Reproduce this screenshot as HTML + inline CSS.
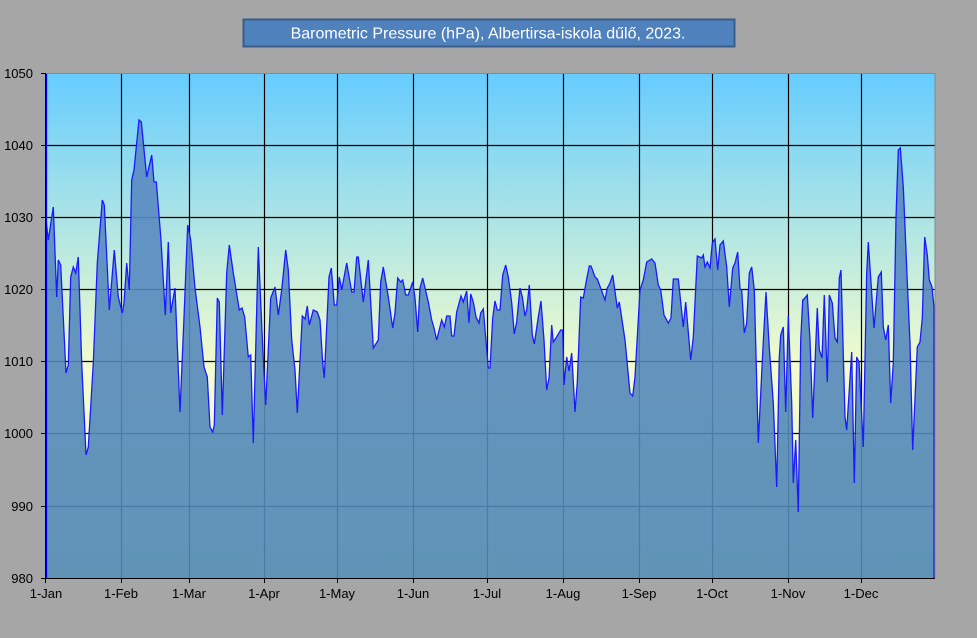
<!DOCTYPE html>
<html><head><meta charset="utf-8"><style>
html,body{margin:0;padding:0;background:#a6a6a6;}
svg{display:block;font-family:"Liberation Sans",sans-serif;}
</style></head><body>
<svg width="977" height="638" viewBox="0 0 977 638" xmlns="http://www.w3.org/2000/svg">
<defs>
<linearGradient id="bg" x1="0" y1="73" x2="0" y2="578" gradientUnits="userSpaceOnUse">
<stop offset="0" stop-color="#66ccff"/>
<stop offset="0.58" stop-color="#f2fccc"/>
<stop offset="1" stop-color="#f2fccc"/>
</linearGradient>
<linearGradient id="fl" x1="0" y1="140" x2="0" y2="578" gradientUnits="userSpaceOnUse">
<stop offset="0" stop-color="#5a8ac4"/>
<stop offset="1" stop-color="#5088b4"/>
</linearGradient>
</defs>
<rect x="0" y="0" width="977" height="638" fill="#a6a6a6"/>
<rect x="243.5" y="19.5" width="491" height="27" fill="#4f81bd" stroke="#385d8a" stroke-width="2"/>
<text x="488" y="38.5" font-size="16" fill="#ffffff" text-anchor="middle">Barometric Pressure (hPa), Albertirsa-iskola dűlő, 2023.</text>
<rect x="46" y="73" width="889" height="505" fill="url(#bg)"/>
<g stroke="#000" stroke-width="1.2">
<line x1="46" y1="145.5" x2="935" y2="145.5"/><line x1="46" y1="217.5" x2="935" y2="217.5"/>
<line x1="46" y1="289.5" x2="935" y2="289.5"/><line x1="46" y1="361.5" x2="935" y2="361.5"/>
<line x1="46" y1="433.5" x2="935" y2="433.5"/><line x1="46" y1="506.5" x2="935" y2="506.5"/>
<line x1="121.5" y1="73" x2="121.5" y2="578"/><line x1="189.5" y1="73" x2="189.5" y2="578"/>
<line x1="264.5" y1="73" x2="264.5" y2="578"/><line x1="337.5" y1="73" x2="337.5" y2="578"/>
<line x1="413.5" y1="73" x2="413.5" y2="578"/><line x1="487.5" y1="73" x2="487.5" y2="578"/>
<line x1="563.5" y1="73" x2="563.5" y2="578"/><line x1="639.5" y1="73" x2="639.5" y2="578"/>
<line x1="712.5" y1="73" x2="712.5" y2="578"/><line x1="788.5" y1="73" x2="788.5" y2="578"/>
<line x1="861.5" y1="73" x2="861.5" y2="578"/>
</g>
<polygon fill="url(#fl)" fill-opacity="0.9" stroke="none" points="46,578 46,220 48.3,240 53.3,207 56.7,297 58.3,260 60.7,265 66,373 68.3,365 70.7,277 73.3,267 75.7,273 78.3,257 81.7,363 86,455 88.3,447 93.3,363 97.3,263 102.3,200 104.3,205 109.3,310 114.3,250 118.3,297 122.3,313 124,303 126.7,263 129.3,290 131.7,180 134,170 139,120 141.3,122 146.7,177 151.7,155 154,182 156.3,182 161,240 165.3,315 168.3,242 170.7,313 175,288 180,412 184.3,310 187.7,225 190.7,240 195,288 200,327 204,367 207.3,377 210,427 212.7,432 214.3,425 217.3,298 219.3,302 222.3,415 226.7,273 229.3,245 233.3,273 239.3,310 242,308 244.7,317 248.3,357 250.7,355 253.3,443 258.3,247 262.7,347 265.7,405 270.7,298 275,287 278.3,315 281.7,290 285.7,250 288.3,270 291.7,340 295,370 297.3,413 302.3,316 305,319 307.3,306 309.3,325 313.3,310 317.3,312 320,320 322.7,363 324.3,378 329,277 331.3,268 334.3,305 336.7,305 339.3,277 341.7,290 346.7,263 351.7,292 354,292 356.7,257 358.3,257 363.3,302 368.3,260 373.3,348 378.3,340 380.7,282 383.3,267 388.3,297 392.7,328 395,313 397.7,278 400.7,282 402.7,280 405.7,295 408.3,295 412.7,282 415,298 417.7,332 420,288 422.7,278 428.3,302 431.7,320 434,328 436.7,340 441.7,320 444.3,327 446.7,316 450,316 451.7,336 454,336 456.7,312 461,296 463.3,302 466.7,291 469,323 470.7,294 473.3,302 476,317 479,323 480.7,313 483.3,309 485.7,338 488.3,368 490,368 492.7,318 495,301 497.3,310 500,310 502.7,275 505.7,265 508.3,277 511.7,303 514.3,334 516.7,322 520,288 522.3,297 525,316 526.7,310 529.3,285 532.3,335 534.3,344 538.3,317 541,301 544,340 546.7,390 549,378 551.7,325 553.3,342 556,338 560.7,330 562.7,330 564,385 566.7,357 569,371 571.7,353 575,412 577.3,382 580.7,297 583.3,298 586.7,279 589.3,266 591,266 595,277 597.3,279 605,300 607.3,288 610,283 612.7,275 617.3,308 619.3,302 625,340 630,393 632.7,396 635,377 640,290 643.3,280 646.7,262 651.7,259 655,263 658.3,285 660.7,290 664,315 668.3,323 671,318 673.3,279 678.3,279 683.3,327 685.7,302 690.7,360 693.3,337 697.3,256 701.7,258 703.3,255 705,267 707.3,262 710,268 712.3,243 715,239 717.7,270 720,245 723.3,241 726.7,267 729.3,307 732.7,268 735,263 737.7,252 740,289 741.7,290 744.3,333 746.7,323 749.3,273 751.7,267 754.3,290 758.3,443 762.7,353 766,292 769.3,348 773.3,403 776.7,487 779.3,357 780.7,335 783.3,327 785.7,412 788.3,316 791.7,403 793.3,483 795.7,440 798.3,512 800.7,340 802.7,300 805,298 807.3,295 810,340 812.7,418 817.3,308 819.3,350 822,358 824.3,295 827.3,382 829.3,295 832.3,303 835,338 837.3,342 839.3,278 841,270 845,417 846.7,430 851.7,352 854.3,483 856.7,357 859,362 863.3,447 866.7,273 868.3,242 874,328 878.3,277 881.3,272 883.3,327 885.7,340 888.3,325 890.7,403 893.3,363 896,218 898.3,150 900.3,148 903.3,187 907.3,282 910,343 912.7,450 917.3,347 920,342 922.3,318 924.7,237 927.3,255 929.3,280 932,287 934,307 934,578"/>
<polyline fill="none" stroke="#1a1aff" stroke-width="1.3" points="46,578 46,220 48.3,240 53.3,207 56.7,297 58.3,260 60.7,265 66,373 68.3,365 70.7,277 73.3,267 75.7,273 78.3,257 81.7,363 86,455 88.3,447 93.3,363 97.3,263 102.3,200 104.3,205 109.3,310 114.3,250 118.3,297 122.3,313 124,303 126.7,263 129.3,290 131.7,180 134,170 139,120 141.3,122 146.7,177 151.7,155 154,182 156.3,182 161,240 165.3,315 168.3,242 170.7,313 175,288 180,412 184.3,310 187.7,225 190.7,240 195,288 200,327 204,367 207.3,377 210,427 212.7,432 214.3,425 217.3,298 219.3,302 222.3,415 226.7,273 229.3,245 233.3,273 239.3,310 242,308 244.7,317 248.3,357 250.7,355 253.3,443 258.3,247 262.7,347 265.7,405 270.7,298 275,287 278.3,315 281.7,290 285.7,250 288.3,270 291.7,340 295,370 297.3,413 302.3,316 305,319 307.3,306 309.3,325 313.3,310 317.3,312 320,320 322.7,363 324.3,378 329,277 331.3,268 334.3,305 336.7,305 339.3,277 341.7,290 346.7,263 351.7,292 354,292 356.7,257 358.3,257 363.3,302 368.3,260 373.3,348 378.3,340 380.7,282 383.3,267 388.3,297 392.7,328 395,313 397.7,278 400.7,282 402.7,280 405.7,295 408.3,295 412.7,282 415,298 417.7,332 420,288 422.7,278 428.3,302 431.7,320 434,328 436.7,340 441.7,320 444.3,327 446.7,316 450,316 451.7,336 454,336 456.7,312 461,296 463.3,302 466.7,291 469,323 470.7,294 473.3,302 476,317 479,323 480.7,313 483.3,309 485.7,338 488.3,368 490,368 492.7,318 495,301 497.3,310 500,310 502.7,275 505.7,265 508.3,277 511.7,303 514.3,334 516.7,322 520,288 522.3,297 525,316 526.7,310 529.3,285 532.3,335 534.3,344 538.3,317 541,301 544,340 546.7,390 549,378 551.7,325 553.3,342 556,338 560.7,330 562.7,330 564,385 566.7,357 569,371 571.7,353 575,412 577.3,382 580.7,297 583.3,298 586.7,279 589.3,266 591,266 595,277 597.3,279 605,300 607.3,288 610,283 612.7,275 617.3,308 619.3,302 625,340 630,393 632.7,396 635,377 640,290 643.3,280 646.7,262 651.7,259 655,263 658.3,285 660.7,290 664,315 668.3,323 671,318 673.3,279 678.3,279 683.3,327 685.7,302 690.7,360 693.3,337 697.3,256 701.7,258 703.3,255 705,267 707.3,262 710,268 712.3,243 715,239 717.7,270 720,245 723.3,241 726.7,267 729.3,307 732.7,268 735,263 737.7,252 740,289 741.7,290 744.3,333 746.7,323 749.3,273 751.7,267 754.3,290 758.3,443 762.7,353 766,292 769.3,348 773.3,403 776.7,487 779.3,357 780.7,335 783.3,327 785.7,412 788.3,316 791.7,403 793.3,483 795.7,440 798.3,512 800.7,340 802.7,300 805,298 807.3,295 810,340 812.7,418 817.3,308 819.3,350 822,358 824.3,295 827.3,382 829.3,295 832.3,303 835,338 837.3,342 839.3,278 841,270 845,417 846.7,430 851.7,352 854.3,483 856.7,357 859,362 863.3,447 866.7,273 868.3,242 874,328 878.3,277 881.3,272 883.3,327 885.7,340 888.3,325 890.7,403 893.3,363 896,218 898.3,150 900.3,148 903.3,187 907.3,282 910,343 912.7,450 917.3,347 920,342 922.3,318 924.7,237 927.3,255 929.3,280 932,287 934,307 934,578"/>
<line x1="46.5" y1="73" x2="46.5" y2="578" stroke="#0000ee" stroke-width="1.3"/>
<line x1="935" y1="73" x2="935" y2="578" stroke="#888" stroke-width="1"/>
<line x1="46" y1="73.5" x2="935" y2="73.5" stroke="#888" stroke-width="1"/>
<g stroke="#000" stroke-width="1">
<line x1="45.5" y1="73" x2="45.5" y2="578.5"/>
<line x1="45" y1="578.5" x2="935" y2="578.5"/>
<line x1="41" y1="73.5" x2="45" y2="73.5"/><line x1="41" y1="145.5" x2="45" y2="145.5"/>
<line x1="41" y1="217.5" x2="45" y2="217.5"/><line x1="41" y1="289.5" x2="45" y2="289.5"/>
<line x1="41" y1="361.5" x2="45" y2="361.5"/><line x1="41" y1="433.5" x2="45" y2="433.5"/>
<line x1="41" y1="506.5" x2="45" y2="506.5"/><line x1="41" y1="578.5" x2="45" y2="578.5"/>
<line x1="45.5" y1="578" x2="45.5" y2="583"/><line x1="121.5" y1="578" x2="121.5" y2="583"/>
<line x1="189.5" y1="578" x2="189.5" y2="583"/><line x1="264.5" y1="578" x2="264.5" y2="583"/>
<line x1="337.5" y1="578" x2="337.5" y2="583"/><line x1="413.5" y1="578" x2="413.5" y2="583"/>
<line x1="487.5" y1="578" x2="487.5" y2="583"/><line x1="563.5" y1="578" x2="563.5" y2="583"/>
<line x1="639.5" y1="578" x2="639.5" y2="583"/><line x1="712.5" y1="578" x2="712.5" y2="583"/>
<line x1="788.5" y1="578" x2="788.5" y2="583"/><line x1="861.5" y1="578" x2="861.5" y2="583"/>
</g>
<g font-size="13" fill="#000" text-anchor="end">
<text x="33" y="78">1050</text><text x="33" y="150">1040</text><text x="33" y="222">1030</text>
<text x="33" y="294">1020</text><text x="33" y="366">1010</text><text x="33" y="438">1000</text>
<text x="33" y="511">990</text><text x="33" y="583">980</text>
</g>
<g font-size="13" fill="#000" text-anchor="middle">
<text x="46" y="598">1-Jan</text><text x="121" y="598">1-Feb</text><text x="189" y="598">1-Mar</text>
<text x="264" y="598">1-Apr</text><text x="337" y="598">1-May</text><text x="413" y="598">1-Jun</text>
<text x="487" y="598">1-Jul</text><text x="563" y="598">1-Aug</text><text x="639" y="598">1-Sep</text>
<text x="712" y="598">1-Oct</text><text x="788" y="598">1-Nov</text><text x="861" y="598">1-Dec</text>
</g>
</svg>
</body></html>
